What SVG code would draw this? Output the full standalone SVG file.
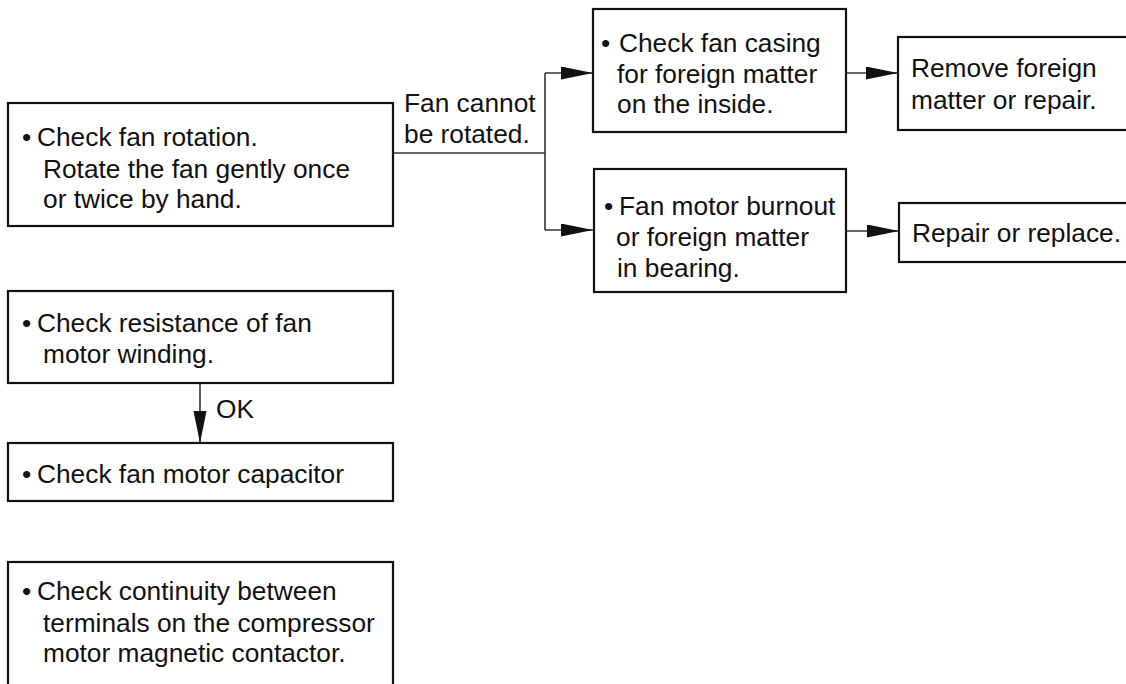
<svg xmlns="http://www.w3.org/2000/svg" width="1126" height="684" viewBox="0 0 1126 684">
<style>
.box{fill:#fff;stroke:#111;stroke-width:2.2}
.t{font-family:"Liberation Sans",Arial,sans-serif;font-size:26.3px;fill:#111}
.c{fill:none;stroke:#333;stroke-width:1.6}
</style>
<defs>
<marker id="ah" markerUnits="userSpaceOnUse" markerWidth="33" markerHeight="14" refX="32" refY="6.5" orient="auto">
<path d="M0,0 L32,6.5 L0,13 Z" fill="#111"/>
</marker>
</defs>
<rect width="1126" height="684" fill="#fff"/>
<g id="connectors">
<path class="c" d="M393,153 H545"/>
<path class="c" d="M545,73 V230"/>
<path class="c" d="M545,73 H593" marker-end="url(#ah)"/>
<path class="c" d="M545,230 H593" marker-end="url(#ah)"/>
<path class="c" d="M846,73 H898" marker-end="url(#ah)"/>
<path class="c" d="M846,231 H899" marker-end="url(#ah)"/>
<path class="c" d="M200,383 V443" marker-end="url(#ah)"/>
<text class="t" x="404" y="112">Fan cannot</text>
<text class="t" x="404" y="143">be rotated.</text>
<text class="t" x="216" y="418">OK</text>
</g>
<g id="n-rotation">
<rect class="box" x="8" y="103" width="385" height="123"/>
<text class="t" x="22" y="146">•</text>
<text class="t" x="37" y="146">Check fan rotation.</text>
<text class="t" x="43" y="178">Rotate the fan gently once</text>
<text class="t" x="43" y="208">or twice by hand.</text>
</g>
<g id="n-casing">
<rect class="box" x="593" y="9" width="253" height="123"/>
<text class="t" x="601" y="52">•</text>
<text class="t" x="619" y="52">Check fan casing</text>
<text class="t" x="617" y="83">for foreign matter</text>
<text class="t" x="617" y="113">on the inside.</text>
</g>
<g id="n-remove">
<rect class="box" x="898" y="37" width="240" height="93"/>
<text class="t" x="911" y="77">Remove foreign</text>
<text class="t" x="911" y="109">matter or repair.</text>
</g>
<g id="n-burnout">
<rect class="box" x="594" y="169" width="252" height="123"/>
<text class="t" x="604" y="215">•</text>
<text class="t" x="619" y="215">Fan motor burnout</text>
<text class="t" x="616" y="246">or foreign matter</text>
<text class="t" x="617" y="277">in bearing.</text>
</g>
<g id="n-repair">
<rect class="box" x="899" y="203" width="240" height="59"/>
<text class="t" x="912" y="242">Repair or replace.</text>
</g>
<g id="n-resistance">
<rect class="box" x="8" y="291" width="385" height="92"/>
<text class="t" x="22" y="332">•</text>
<text class="t" x="37" y="332">Check resistance of fan</text>
<text class="t" x="43" y="363">motor winding.</text>
</g>
<g id="n-capacitor">
<rect class="box" x="8" y="443" width="385" height="58"/>
<text class="t" x="22" y="483">•</text>
<text class="t" x="37" y="483">Check fan motor capacitor</text>
</g>
<g id="n-continuity">
<rect class="box" x="8" y="562" width="385" height="140"/>
<text class="t" x="22" y="600">•</text>
<text class="t" x="37" y="600">Check continuity between</text>
<text class="t" x="43" y="632">terminals on the compressor</text>
<text class="t" x="43" y="662">motor magnetic contactor.</text>
</g>
</svg>
